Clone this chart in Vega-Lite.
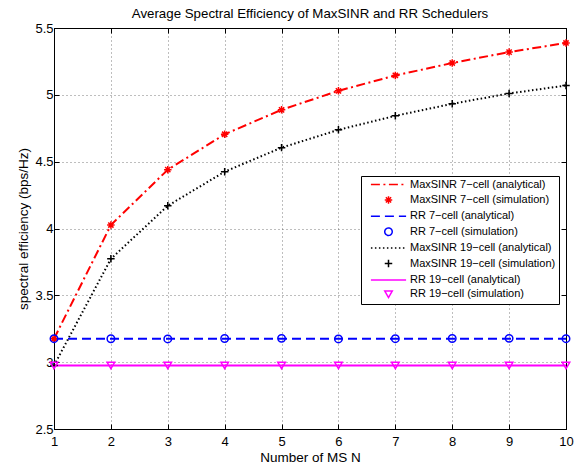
{
  "$schema": "https://vega.github.io/schema/vega-lite/v6.json",
  "width": 512,
  "height": 401,
  "autosize": {"type": "none"},
  "padding": {"left": 54, "top": 28, "right": 11, "bottom": 36},
  "background": "white",
  "title": {
    "text": "Average Spectral Efficiency of MaxSINR and RR Schedulers",
    "font": "Liberation Sans",
    "fontSize": 13.3,
    "fontWeight": "normal",
    "color": "black",
    "offset": 2,
    "anchor": "middle"
  },
  "config": {
    "view": {"stroke": "black", "strokeWidth": 1},
    "axis": {
      "labelFont": "Liberation Sans",
      "titleFont": "Liberation Sans",
      "labelFontSize": 13,
      "titleFontSize": 13.5,
      "titleFontWeight": "normal",
      "labelColor": "black",
      "titleColor": "black",
      "domainColor": "black",
      "tickColor": "black",
      "gridColor": "#444444",
      "gridDash": [1, 3],
      "gridOpacity": 0.7
    },
    "legend": {
      "labelFont": "Liberation Sans",
      "labelFontSize": 11,
      "labelColor": "black"
    }
  },
  "datasets": {
    "analytical": [
      {"series": "MaxSINR 7−cell (analytical)", "N": 1, "value": 3.175},
      {"series": "MaxSINR 7−cell (analytical)", "N": 2, "value": 4.026},
      {"series": "MaxSINR 7−cell (analytical)", "N": 3, "value": 4.44},
      {"series": "MaxSINR 7−cell (analytical)", "N": 4, "value": 4.705},
      {"series": "MaxSINR 7−cell (analytical)", "N": 5, "value": 4.888},
      {"series": "MaxSINR 7−cell (analytical)", "N": 6, "value": 5.03},
      {"series": "MaxSINR 7−cell (analytical)", "N": 7, "value": 5.145},
      {"series": "MaxSINR 7−cell (analytical)", "N": 8, "value": 5.238},
      {"series": "MaxSINR 7−cell (analytical)", "N": 9, "value": 5.32},
      {"series": "MaxSINR 7−cell (analytical)", "N": 10, "value": 5.388},
      {"series": "RR 7−cell (analytical)", "N": 1, "value": 3.175},
      {"series": "RR 7−cell (analytical)", "N": 2, "value": 3.175},
      {"series": "RR 7−cell (analytical)", "N": 3, "value": 3.175},
      {"series": "RR 7−cell (analytical)", "N": 4, "value": 3.175},
      {"series": "RR 7−cell (analytical)", "N": 5, "value": 3.175},
      {"series": "RR 7−cell (analytical)", "N": 6, "value": 3.175},
      {"series": "RR 7−cell (analytical)", "N": 7, "value": 3.175},
      {"series": "RR 7−cell (analytical)", "N": 8, "value": 3.175},
      {"series": "RR 7−cell (analytical)", "N": 9, "value": 3.175},
      {"series": "RR 7−cell (analytical)", "N": 10, "value": 3.175},
      {"series": "MaxSINR 19−cell (analytical)", "N": 1, "value": 2.975},
      {"series": "MaxSINR 19−cell (analytical)", "N": 2, "value": 3.773},
      {"series": "MaxSINR 19−cell (analytical)", "N": 3, "value": 4.17},
      {"series": "MaxSINR 19−cell (analytical)", "N": 4, "value": 4.425},
      {"series": "MaxSINR 19−cell (analytical)", "N": 5, "value": 4.605},
      {"series": "MaxSINR 19−cell (analytical)", "N": 6, "value": 4.738},
      {"series": "MaxSINR 19−cell (analytical)", "N": 7, "value": 4.843},
      {"series": "MaxSINR 19−cell (analytical)", "N": 8, "value": 4.933},
      {"series": "MaxSINR 19−cell (analytical)", "N": 9, "value": 5.01},
      {"series": "MaxSINR 19−cell (analytical)", "N": 10, "value": 5.07},
      {"series": "RR 19−cell (analytical)", "N": 1, "value": 2.975},
      {"series": "RR 19−cell (analytical)", "N": 2, "value": 2.975},
      {"series": "RR 19−cell (analytical)", "N": 3, "value": 2.975},
      {"series": "RR 19−cell (analytical)", "N": 4, "value": 2.975},
      {"series": "RR 19−cell (analytical)", "N": 5, "value": 2.975},
      {"series": "RR 19−cell (analytical)", "N": 6, "value": 2.975},
      {"series": "RR 19−cell (analytical)", "N": 7, "value": 2.975},
      {"series": "RR 19−cell (analytical)", "N": 8, "value": 2.975},
      {"series": "RR 19−cell (analytical)", "N": 9, "value": 2.975},
      {"series": "RR 19−cell (analytical)", "N": 10, "value": 2.975}
    ],
    "simulation": [
      {"series": "MaxSINR 7−cell (simulation)", "N": 1, "value": 3.175},
      {"series": "MaxSINR 7−cell (simulation)", "N": 2, "value": 4.026},
      {"series": "MaxSINR 7−cell (simulation)", "N": 3, "value": 4.44},
      {"series": "MaxSINR 7−cell (simulation)", "N": 4, "value": 4.705},
      {"series": "MaxSINR 7−cell (simulation)", "N": 5, "value": 4.888},
      {"series": "MaxSINR 7−cell (simulation)", "N": 6, "value": 5.03},
      {"series": "MaxSINR 7−cell (simulation)", "N": 7, "value": 5.145},
      {"series": "MaxSINR 7−cell (simulation)", "N": 8, "value": 5.238},
      {"series": "MaxSINR 7−cell (simulation)", "N": 9, "value": 5.32},
      {"series": "MaxSINR 7−cell (simulation)", "N": 10, "value": 5.388},
      {"series": "RR 7−cell (simulation)", "N": 1, "value": 3.176},
      {"series": "RR 7−cell (simulation)", "N": 2, "value": 3.175},
      {"series": "RR 7−cell (simulation)", "N": 3, "value": 3.174},
      {"series": "RR 7−cell (simulation)", "N": 4, "value": 3.177},
      {"series": "RR 7−cell (simulation)", "N": 5, "value": 3.178},
      {"series": "RR 7−cell (simulation)", "N": 6, "value": 3.174},
      {"series": "RR 7−cell (simulation)", "N": 7, "value": 3.176},
      {"series": "RR 7−cell (simulation)", "N": 8, "value": 3.177},
      {"series": "RR 7−cell (simulation)", "N": 9, "value": 3.178},
      {"series": "RR 7−cell (simulation)", "N": 10, "value": 3.176},
      {"series": "MaxSINR 19−cell (simulation)", "N": 1, "value": 2.975},
      {"series": "MaxSINR 19−cell (simulation)", "N": 2, "value": 3.773},
      {"series": "MaxSINR 19−cell (simulation)", "N": 3, "value": 4.17},
      {"series": "MaxSINR 19−cell (simulation)", "N": 4, "value": 4.425},
      {"series": "MaxSINR 19−cell (simulation)", "N": 5, "value": 4.605},
      {"series": "MaxSINR 19−cell (simulation)", "N": 6, "value": 4.738},
      {"series": "MaxSINR 19−cell (simulation)", "N": 7, "value": 4.843},
      {"series": "MaxSINR 19−cell (simulation)", "N": 8, "value": 4.933},
      {"series": "MaxSINR 19−cell (simulation)", "N": 9, "value": 5.01},
      {"series": "MaxSINR 19−cell (simulation)", "N": 10, "value": 5.07},
      {"series": "RR 19−cell (simulation)", "N": 1, "value": 2.975},
      {"series": "RR 19−cell (simulation)", "N": 2, "value": 2.975},
      {"series": "RR 19−cell (simulation)", "N": 3, "value": 2.975},
      {"series": "RR 19−cell (simulation)", "N": 4, "value": 2.975},
      {"series": "RR 19−cell (simulation)", "N": 5, "value": 2.975},
      {"series": "RR 19−cell (simulation)", "N": 6, "value": 2.975},
      {"series": "RR 19−cell (simulation)", "N": 7, "value": 2.975},
      {"series": "RR 19−cell (simulation)", "N": 8, "value": 2.975},
      {"series": "RR 19−cell (simulation)", "N": 9, "value": 2.975},
      {"series": "RR 19−cell (simulation)", "N": 10, "value": 2.975}
    ]
  },
  "resolve": {"axis": {"x": "independent", "y": "independent"}},
  "layer": [
    {
      "data": {"name": "analytical"},
      "mark": {"type": "line", "clip": true},
      "encoding": {
        "x": {
          "field": "N", "type": "quantitative",
          "scale": {"domain": [1, 10], "nice": false, "zero": false},
          "axis": {
            "orient": "bottom", "title": "Number of MS N",
            "values": [1, 2, 3, 4, 5, 6, 7, 8, 9, 10],
            "grid": true, "tickSize": -5, "labelPadding": 11, "titlePadding": 2,
            "labelFlush": false
          }
        },
        "y": {
          "field": "value", "type": "quantitative",
          "scale": {"domain": [2.5, 5.5], "nice": false, "zero": false},
          "axis": {
            "orient": "left", "title": "spectral efficiency (bps/Hz)",
            "values": [2.5, 3, 3.5, 4, 4.5, 5, 5.5],
            "format": ".1~f",
            "grid": true, "tickSize": -5, "labelPadding": 6, "titlePadding": 4,
            "labelFlush": false
          }
        },
        "color": {
          "field": "series", "type": "nominal",
          "scale": {
            "domain": ["MaxSINR 7−cell (analytical)", "MaxSINR 7−cell (simulation)", "RR 7−cell (analytical)", "RR 7−cell (simulation)", "MaxSINR 19−cell (analytical)", "MaxSINR 19−cell (simulation)", "RR 19−cell (analytical)", "RR 19−cell (simulation)"],
            "range": ["#ff0000", "#ff0000", "#0000ff", "#0000ff", "#000000", "#000000", "#ff00ff", "#ff00ff"]
          },
          "legend": {
            "title": null,
            "orient": "none",
            "legendX": 307,
            "legendY": 148,
            "strokeColor": "black",
            "fillColor": "white",
            "padding": 3,
            "symbolSize": 56,
            "symbolStrokeWidth": 1.5,
            "symbolOffset": 19,
            "labelOffset": 16,
            "rowPadding": 2.4,
            "cornerRadius": 0
          }
        },
        "strokeDash": {
          "field": "series", "type": "nominal",
          "scale": {
            "domain": ["MaxSINR 7−cell (analytical)", "MaxSINR 7−cell (simulation)", "RR 7−cell (analytical)", "RR 7−cell (simulation)", "MaxSINR 19−cell (analytical)", "MaxSINR 19−cell (simulation)", "RR 19−cell (analytical)", "RR 19−cell (simulation)"],
            "range": [[9, 3.5, 2, 3.5], [1, 0], [9, 5], [1, 0], [1.5, 2.5], [1, 0], [1, 0], [1, 0]]
          },
          "legend": {"title": null}
        },
        "strokeWidth": {
          "field": "series", "type": "nominal",
          "scale": {
            "domain": ["MaxSINR 7−cell (analytical)", "RR 7−cell (analytical)", "MaxSINR 19−cell (analytical)", "RR 19−cell (analytical)"],
            "range": [2, 2, 1.2, 2]
          },
          "legend": null
        }
      }
    },
    {
      "data": {"name": "simulation"},
      "mark": {"type": "point", "filled": false, "opacity": 1, "strokeWidth": 1.5, "size": 56, "clip": false},
      "encoding": {
        "x": {
          "field": "N", "type": "quantitative",
          "axis": {
            "orient": "top", "title": null, "labels": false, "grid": false,
            "values": [1, 2, 3, 4, 5, 6, 7, 8, 9, 10], "tickSize": -5
          }
        },
        "y": {
          "field": "value", "type": "quantitative",
          "axis": {
            "orient": "right", "title": null, "labels": false, "grid": false,
            "values": [2.5, 3, 3.5, 4, 4.5, 5, 5.5], "tickSize": -5
          }
        },
        "color": {"field": "series", "type": "nominal"},
        "shape": {
          "field": "series", "type": "nominal",
          "scale": {
            "domain": ["MaxSINR 7−cell (analytical)", "MaxSINR 7−cell (simulation)", "RR 7−cell (analytical)", "RR 7−cell (simulation)", "MaxSINR 19−cell (analytical)", "MaxSINR 19−cell (simulation)", "RR 19−cell (analytical)", "RR 19−cell (simulation)"],
            "range": ["M-4.7,0H4.7", "M0,-1V1M-1,0H1M-0.7,-0.7L0.7,0.7M-0.7,0.7L0.7,-0.7", "M-4.7,0H4.7", "circle", "M-4.7,0H4.7", "M-1,0H1M0,-1V1", "M-4.7,0H4.7", "triangle-down"]
          },
          "legend": {"title": null}
        }
      }
    }
  ]
}
